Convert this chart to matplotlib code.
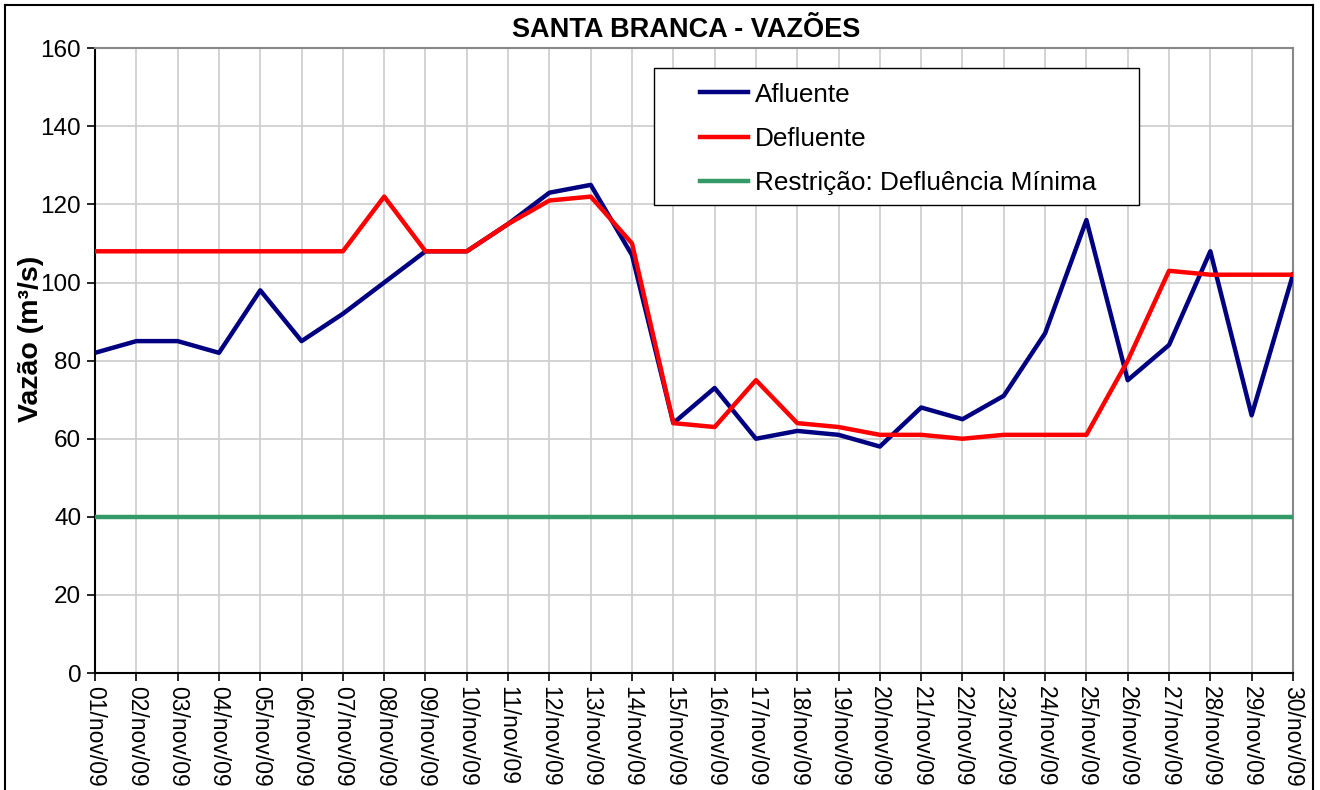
import numpy as np
import matplotlib
matplotlib.use('Agg')
import matplotlib.pyplot as plt
from matplotlib.lines import Line2D
from matplotlib.patches import Rectangle

plt.rcParams['font.family'] = ['Liberation Sans', 'DejaVu Sans']

# dias de novembro/2009
dias = ['%02d/nov/09' % d for d in range(1, 31)]

afluente = [82, 85, 85, 82, 98, 85, 92, 100, 108, 108,
            115, 123, 125, 107, 64, 73, 60, 62, 61, 58,
            68, 65, 71, 87, 116, 75, 84, 108, 66, 102]
defluente = [108, 108, 108, 108, 108, 108, 108, 122, 108, 108,
             115, 121, 122, 110, 64, 63, 75, 64, 63, 61,
             61, 60, 61, 61, 61, 80, 103, 102, 102, 102]
restricao = [40] * 30

y_ticks = [0, 20, 40, 60, 80, 100, 120, 140, 160]

fig = plt.figure(figsize=(13.2, 7.9), dpi=100)
ax = fig.add_axes([0.072, 0.148, 0.9075, 0.791])

x = np.arange(len(dias))
ax.plot(x, afluente, color='#000080', lw=3.2, label='Afluente', zorder=4)
ax.plot(x, defluente, color='#FF0000', lw=3.2, label='Defluente', zorder=5)
ax.plot(x, restricao, color='#339966', lw=3.2,
        label='Restrição: Defluência Mínima', zorder=3)

ax.set_xlim(0, len(dias) - 1)
ax.set_ylim(0, 160)
ax.set_xticks(x)
ax.set_xticklabels(dias, rotation=-90, fontsize=16.5)
ax.set_yticks(y_ticks)
ax.set_yticklabels([str(v) for v in y_ticks], fontsize=17.5)
ax.tick_params(axis='both', direction='out', length=6, width=1.2, color='black', pad=4)
ax.tick_params(axis='x', pad=3)

ax.grid(True, color='#cccccc', lw=1.2)
ax.set_axisbelow(True)
for s in ['top', 'right']:
    ax.spines[s].set_color('#888888')
    ax.spines[s].set_linewidth(1.5)
for s in ['left', 'bottom']:
    ax.spines[s].set_color('black')
    ax.spines[s].set_linewidth(1.5)

ax.set_ylabel('Vazão (m³/s)', fontsize=20.5, fontweight='bold')
ax.yaxis.set_label_coords(-0.043, 0.535)
fig.text(0.52, 0.962, 'SANTA BRANCA - VAZÕES', ha='center', va='center',
         fontsize=19.5, fontweight='bold')

# caixa da legenda
ax.add_patch(Rectangle((0.4666, 0.7488), 0.4048, 0.2192, transform=ax.transAxes,
                       facecolor='white', edgecolor='black', lw=1.0, zorder=9))
leg = ax.legend(loc='upper left', bbox_to_anchor=(0.505, 0.945), fontsize=18.8,
                frameon=False, handlelength=1.85, handletextpad=0.27,
                labelspacing=0.78, borderpad=0, borderaxespad=0)
leg.set_zorder(10)

# moldura externa
for xs, ys in [([0.004, 0.004], [-0.01, 0.994]),
               ([0.004, 0.9945], [0.994, 0.994]),
               ([0.9945, 0.9945], [-0.01, 0.994])]:
    fig.add_artist(Line2D(xs, ys, color='black', lw=1.5, transform=fig.transFigure))

fig.savefig('out.png', dpi=100)
